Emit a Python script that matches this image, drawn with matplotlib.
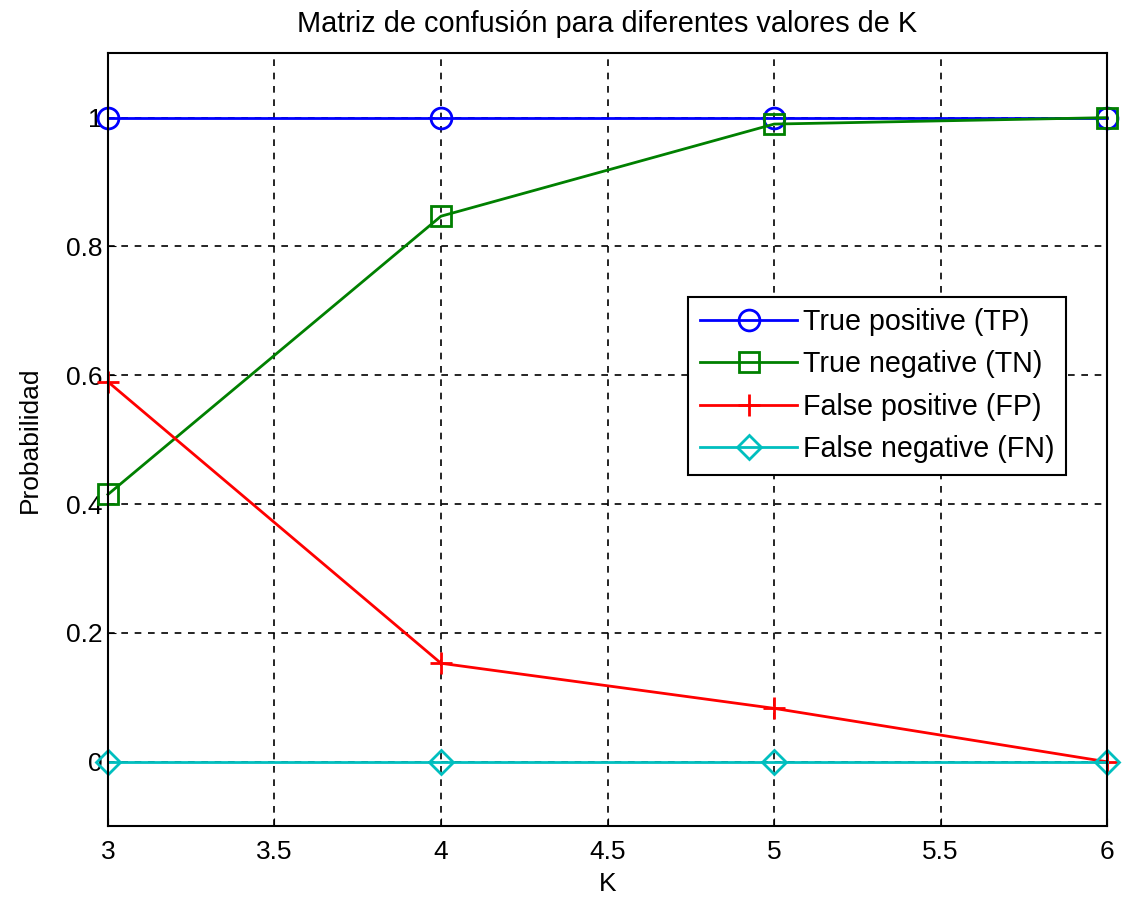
import matplotlib.pyplot as plt

# Datos
K = [3, 4, 5, 6]
tp = [1.0, 1.0, 1.0, 1.0]
tn = [0.415, 0.847, 0.99, 1.0]
fp = [0.59, 0.153, 0.083, 0.0]
fn = [0.0, 0.0, 0.0, 0.0]

xticks = [3, 3.5, 4, 4.5, 5, 5.5, 6]
yticks = [0, 0.2, 0.4, 0.6, 0.8, 1]
ytick_labels = ['0', '0.2', '0.4', '0.6', '0.8', '1']

plt.rcParams['font.family'] = ['Liberation Sans', 'DejaVu Sans']

fig = plt.figure(figsize=(11.24, 9.02), dpi=100)
ax = fig.add_axes([0.096, 0.084, 0.889, 0.857])

ax.plot(K, tp, 'o-', color=(0, 0, 1), lw=2, ms=15, mfc='none', mew=2, clip_on=False, label='True positive (TP)')
ax.plot(K, tn, 's-', color=(0, 0.5, 0), lw=2, ms=14, mfc='none', mew=2, clip_on=False, label='True negative (TN)')
ax.plot(K, fp, '+-', color=(1, 0, 0), lw=2, ms=16, mew=2, clip_on=False, label='False positive (FP)')
ax.plot(K, fn, 'D-', color=(0, 0.75, 0.75), lw=2, ms=12, mfc='none', mew=2, clip_on=False, label='False negative (FN)')

ax.set_xlim(3, 6)
ax.set_ylim(-0.1, 1.1)
ax.set_xticks(xticks)
ax.set_xticklabels([f'{v:g}' for v in xticks])
ax.set_yticks(yticks)
ax.set_yticklabels(ytick_labels)
ax.tick_params(direction='in', length=6, labelsize=19)
ax.tick_params(axis='y', pad=4)
ax.tick_params(axis='x', pad=10)

ax.grid(True, color='black', linestyle=(0, (4, 4)), linewidth=1.2)
for s in ax.spines.values():
    s.set_linewidth(1.5)

ax.set_title('Matriz de confusión para diferentes valores de K', fontsize=20.8, pad=15)
ax.set_xlabel('K', fontsize=19, labelpad=6)
ax.set_ylabel('Probabilidad', fontsize=19, labelpad=17)

leg = ax.legend(loc='upper left', bbox_to_anchor=(0.581, 0.685), fontsize=20.6,
                fancybox=False, framealpha=1, edgecolor='black',
                handlelength=3.4, borderpad=0.4, labelspacing=0.5, handletextpad=0.2,
                borderaxespad=0)
leg.get_frame().set_linewidth(1.5)

fig.savefig('out.png', dpi=100)
